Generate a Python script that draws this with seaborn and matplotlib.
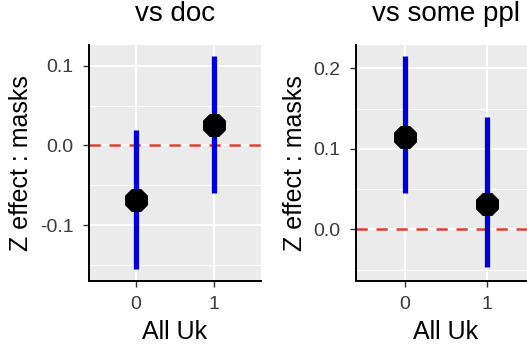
import numpy as np
import pandas as pd
import matplotlib
matplotlib.use("Agg")
import matplotlib.pyplot as plt
import seaborn as sns
from matplotlib.ticker import FixedLocator

# ---- data ----
panels = ["vs doc", "vs some ppl"]
groups = [0, 1]
tick_labels = ["0", "1"]
doc_est = [-0.068, 0.026]
doc_lo = [-0.155, -0.060]
doc_hi = [0.019, 0.112]
ppl_est = [0.115, 0.032]
ppl_lo = [0.045, -0.047]
ppl_hi = [0.215, 0.140]
x_label = "All Uk"
y_label = "Z effect : masks"

df = pd.concat([
    pd.DataFrame({"panel": panels[0], "x": groups, "est": doc_est, "lo": doc_lo, "hi": doc_hi}),
    pd.DataFrame({"panel": panels[1], "x": groups, "est": ppl_est, "lo": ppl_lo, "hi": ppl_hi}),
], ignore_index=True)

sns.set_theme(style="darkgrid")
plt.rcParams["font.family"] = ["Liberation Sans", "DejaVu Sans"]

fig = plt.figure(figsize=(5.27, 3.49), dpi=100)
W, H = 527.0, 349.0
positions = [
    (89 / W, 1 - 281 / H, (261 - 89) / W, (281 - 45) / H),
    (356 / W, 1 - 281 / H, (536 - 356) / W, (281 - 45) / H),
]
ylims = [(-0.170, 0.126), (-0.064, 0.229)]
majors = [[-0.1, 0.0, 0.1], [0.0, 0.1, 0.2]]
minors = [[-0.15, -0.05, 0.05], [-0.05, 0.05, 0.15]]

for i, name in enumerate(panels):
    ax = fig.add_axes(positions[i])
    ax.set_facecolor("#EBEBEB")
    sub = df[df["panel"] == name]
    ax.axhline(0, color="#D9402F", lw=1.8, ls=(0, (4.5, 3.5)), zorder=2)
    ax.vlines(sub["x"], sub["lo"], sub["hi"], color="#0000CC", lw=3.8, zorder=3)
    sns.scatterplot(data=sub, x="x", y="est", ax=ax, color="black", marker="8",
                    s=320, linewidth=0, zorder=4, legend=False)
    ax.set_xlim(-0.6, 1.6)
    ax.set_ylim(*ylims[i])
    ax.xaxis.set_major_locator(FixedLocator(groups))
    ax.set_xticklabels(tick_labels)
    ax.yaxis.set_major_locator(FixedLocator(majors[i]))
    ax.yaxis.set_minor_locator(FixedLocator(minors[i]))
    ax.set_yticklabels([f"{v:.1f}" for v in majors[i]])
    ax.grid(which="major", color="white", lw=1.4)
    ax.grid(which="minor", axis="y", color="white", lw=0.7)
    ax.set_axisbelow(True)
    for s in ["top", "right"]:
        ax.spines[s].set_visible(False)
    for s in ["left", "bottom"]:
        ax.spines[s].set_visible(True)
        ax.spines[s].set_color("black")
        ax.spines[s].set_linewidth(1.4)
    ax.tick_params(axis="both", which="major", length=4, width=1.0, color="#333333",
                   labelsize=14, labelcolor="#3A3A3A", left=True, bottom=True)
    ax.tick_params(axis="x", which="major", pad=7)
    ax.tick_params(axis="y", which="major", pad=7)
    ax.tick_params(axis="y", which="minor", length=0)
    ax.set_xlabel(x_label, fontsize=18, color="black", labelpad=5)
    ax.set_ylabel(y_label, fontsize=18, color="black", labelpad=5)
    ax.set_title(name, fontsize=20, color="black", pad=17)

fig.savefig("out.png", dpi=100)
